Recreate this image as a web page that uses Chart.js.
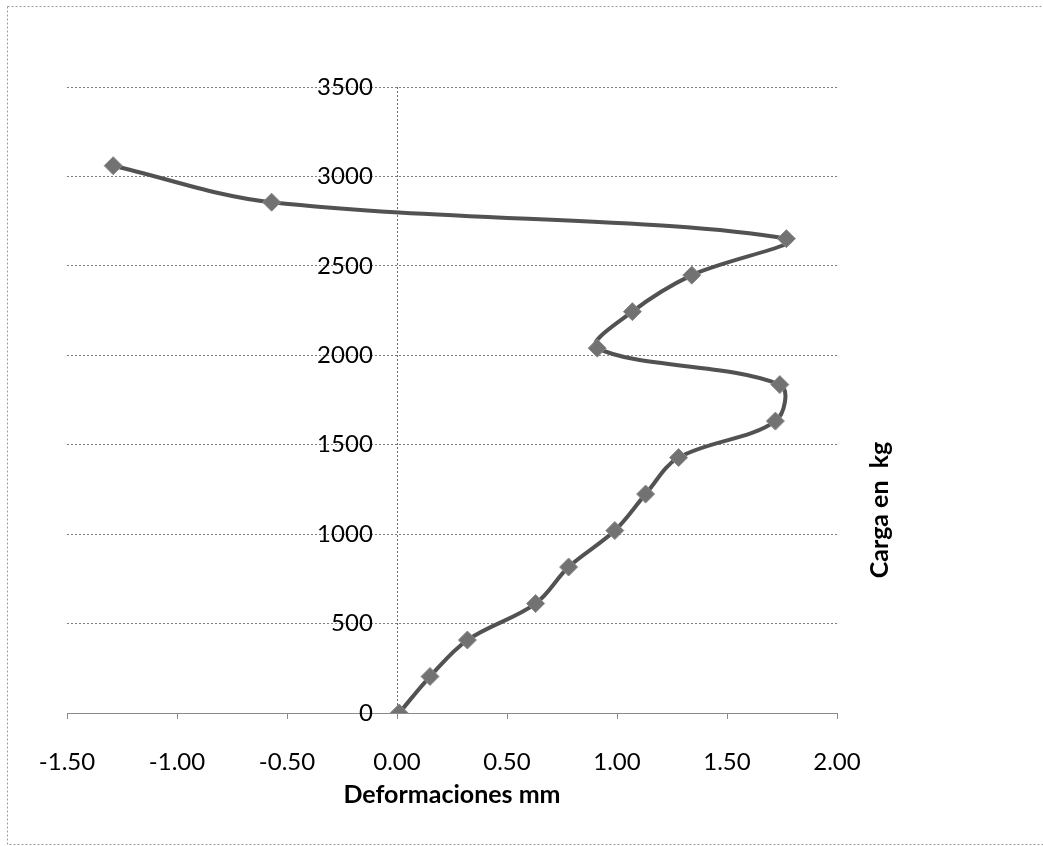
<!DOCTYPE html>
<html>
<head>
<meta charset="utf-8">
<script src="https://cdn.jsdelivr.net/npm/chart.js@4/dist/chart.umd.min.js"></script>
<style>
  html, body { margin: 0; padding: 0; background: #ffffff; }
  #wrap { width: 1043px; height: 846px; position: relative; }
</style>
</head>
<body>
<div id="wrap"><canvas id="chart"></canvas></div>
<script>
// Load test: deformation (mm) measured at each load step (kg)
const deformaciones = [0.01, 0.15, 0.32, 0.63, 0.78, 0.99, 1.13, 1.28, 1.72, 1.74, 0.91, 1.07, 1.34, 1.77, -0.57, -1.29];
const cargas = [0, 204, 408, 612, 816, 1020, 1224, 1428, 1632, 1836, 2040, 2244, 2448, 2652, 2856, 3060];

const xTicks = [-1.5, -1.0, -0.5, 0.0, 0.5, 1.0, 1.5, 2.0];
const yTicks = [0, 500, 1000, 1500, 2000, 2500, 3000, 3500];

const xTitle = 'Deformaciones mm';
const yTitle = 'Carga en  kg';

const points = deformaciones.map((x, i) => ({ x: x, y: cargas[i] }));

const FONT = 'Lato, "Liberation Sans", sans-serif';

// Outer frame and the vertical load title on the right
const decorations = {
  id: 'decorations',
  beforeDraw(chart) {
    const ctx = chart.ctx;
    ctx.save();
    ctx.fillStyle = '#ffffff';
    ctx.fillRect(0, 0, chart.width, chart.height);
    ctx.strokeStyle = '#9a9a9a';
    ctx.lineWidth = 1;
    ctx.setLineDash([2, 2]);
    ctx.strokeRect(7.5, 6.5, chart.width, chart.height - 8);
    ctx.restore();
  },
  afterDraw(chart) {
    const ctx = chart.ctx;
    ctx.save();
    ctx.translate(880, 510);
    ctx.rotate(-Math.PI / 2);
    ctx.fillStyle = '#000000';
    ctx.font = 'bold 25px ' + FONT;
    ctx.textAlign = 'center';
    ctx.textBaseline = 'middle';
    ctx.fillText(yTitle, 0, 0);
    ctx.restore();
  }
};

new Chart(document.getElementById('chart'), {
  type: 'scatter',
  data: {
    datasets: [{
      data: points,
      showLine: true,
      tension: 0.35,
      borderColor: '#525252',
      borderWidth: 4,
      pointStyle: 'rectRot',
      pointRadius: 9,
      pointBackgroundColor: '#727272',
      pointBorderColor: '#8a8a8a',
      pointBorderWidth: 1
    }]
  },
  options: {
    responsive: true,
    maintainAspectRatio: false,
    animation: false,
    layout: { padding: { left: 67, right: 206, top: 87, bottom: 0 } },
    plugins: {
      legend: { display: false },
      tooltip: { enabled: false }
    },
    scales: {
      x: {
        type: 'linear',
        position: 'bottom',
        min: -1.5,
        max: 2.0,
        afterBuildTicks(scale) { scale.ticks = xTicks.map(v => ({ value: v })); },
        afterFit(scale) { scale.height = 133; },
        grid: {
          // only the zero line is drawn across the plot (vertical axis at 0)
          drawOnChartArea: true,
          drawTicks: true,
          tickLength: 6,
          tickColor: '#8a8a8a',
          color: ctx => (ctx.tick && ctx.tick.value === 0) ? '#6a6a6a' : 'rgba(0,0,0,0)',
          lineWidth: 1
        },
        border: { display: true, color: '#8a8a8a', dash: [2, 2], width: 1 },
        ticks: {
          padding: 29,
          color: '#000000',
          font: { family: FONT, size: 24 },
          maxRotation: 0,
          callback: v => Number(v).toFixed(2)
        },
        title: {
          display: true,
          text: xTitle,
          color: '#000000',
          font: { family: FONT, size: 25, weight: 'bold' },
          padding: { top: 0, bottom: 36 }
        }
      },
      y: {
        type: 'linear',
        position: { x: -0.11 },
        min: 0,
        max: 3500,
        afterBuildTicks(scale) { scale.ticks = yTicks.map(v => ({ value: v })); },
        grid: {
          drawOnChartArea: true,
          drawTicks: false,
          color: '#7e7e7e',
          lineWidth: 1
        },
        border: { display: false, dash: [2, 2] },
        ticks: {
          padding: 0,
          color: '#000000',
          font: { family: FONT, size: 24 },
          callback: v => String(v)
        }
      }
    }
  },
  plugins: [decorations]
});
</script>
</body>
</html>
